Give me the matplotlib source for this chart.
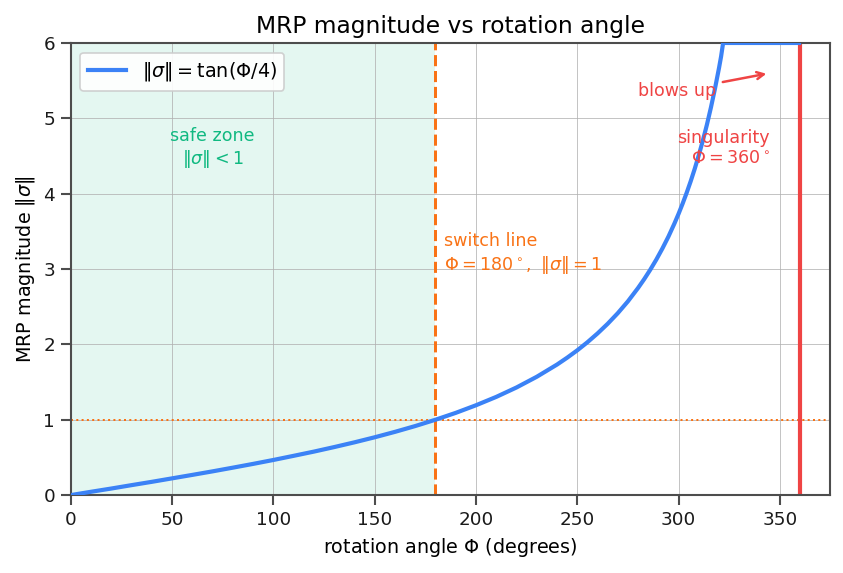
import matplotlib
matplotlib.use("Agg")
import matplotlib.pyplot as plt

# rotation angle (deg) and MRP magnitude (clipped at 6)
angle = [0, 10, 20, 30, 40, 50, 60, 70, 80, 90, 100, 110, 120, 130, 140, 150,
         160, 170, 180, 190, 200, 210, 220, 230, 240, 245, 250, 255, 260, 265,
         270, 275, 280, 283, 286, 289, 292, 295, 298, 300, 302, 304, 306, 308,
         310, 312, 314, 316, 318, 320, 321, 322, 340, 359.5]
magnitude = [0.0, 0.044, 0.087, 0.132, 0.176, 0.222, 0.268, 0.315, 0.364, 0.414,
             0.466, 0.521, 0.577, 0.637, 0.700, 0.767, 0.839, 0.916, 1.0, 1.091,
             1.192, 1.303, 1.428, 1.570, 1.732, 1.823, 1.921, 2.028, 2.145, 2.273,
             2.414, 2.571, 2.748, 2.864, 2.989, 3.124, 3.271, 3.430, 3.606, 3.732,
             3.867, 4.011, 4.165, 4.331, 4.511, 4.705, 4.915, 5.145, 5.396, 5.671,
             5.820, 6.0, 6.0, 6.0]

safe_span = [0, 180]
switch_angle = 180
singular_angle = 360
unit_level = 1

xlim = [0, 375]
ylim = [0, 6]

BLUE = "#3b82f6"
ORANGE = "#f97316"
RED = "#ef4444"
GREEN = "#10b981"

plt.rcParams.update({
    "font.family": ["DejaVu Sans"],
    "axes.edgecolor": "#4d4d4d",
    "axes.linewidth": 1.25,
    "xtick.color": "#4d4d4d",
    "ytick.color": "#4d4d4d",
    "xtick.labelcolor": "#1a1a1a",
    "ytick.labelcolor": "#1a1a1a",
    "xtick.major.width": 1.25,
    "ytick.major.width": 1.25,
    "xtick.major.size": 6,
    "ytick.major.size": 6,
})

fig, ax = plt.subplots(figsize=(7.033, 4.775), dpi=120)
fig.subplots_adjust(left=0.084, right=0.984, top=0.925, bottom=0.136)

ax.axvspan(safe_span[0], safe_span[1], color=GREEN, alpha=0.11, lw=0, zorder=0)
ax.grid(True, color="#b0b0b0", lw=0.6, alpha=0.75)
ax.set_axisbelow(True)

ax.plot(angle, magnitude, color=BLUE, lw=2.5, label=r"$\|\sigma\| = \tan(\Phi/4)$",
        zorder=3, solid_joinstyle="round")
ax.axvline(switch_angle, color=ORANGE, ls="--", lw=1.8, zorder=2)
ax.axhline(unit_level, color=ORANGE, ls=":", lw=1.2, zorder=2)
ax.axvline(singular_angle, color=RED, lw=2.5, zorder=2)

ax.text(70, 4.6, "safe zone\n" + r"$\|\sigma\| < 1$", color=GREEN, fontsize=10.5,
        ha="center", va="center")
ax.text(184, 3.2, "switch line\n" + r"$\Phi = 180^\circ,\ \|\sigma\| = 1$", color=ORANGE,
        fontsize=10.5, ha="left", va="center")
ax.text(345, 4.6, "singularity\n" + r"$\Phi = 360^\circ$", color=RED, fontsize=10.5,
        ha="right", va="center", multialignment="right")
ax.annotate("blows up", xy=(345, 5.6), xytext=(280, 5.3), color=RED, fontsize=10.5,
            arrowprops=dict(arrowstyle="->", color=RED, lw=1.5))

ax.set_xlim(xlim)
ax.set_ylim(ylim)
ax.set_xlabel(r"rotation angle $\Phi$ (degrees)", fontsize=11.5)
ax.set_ylabel(r"MRP magnitude $\|\sigma\|$", fontsize=11.5)
ax.set_title("MRP magnitude vs rotation angle", fontsize=14)
ax.tick_params(labelsize=11)
ax.legend(loc="upper left", fontsize=11.5, framealpha=0.9, edgecolor="#cccccc")

fig.savefig("out.png", dpi=120)
